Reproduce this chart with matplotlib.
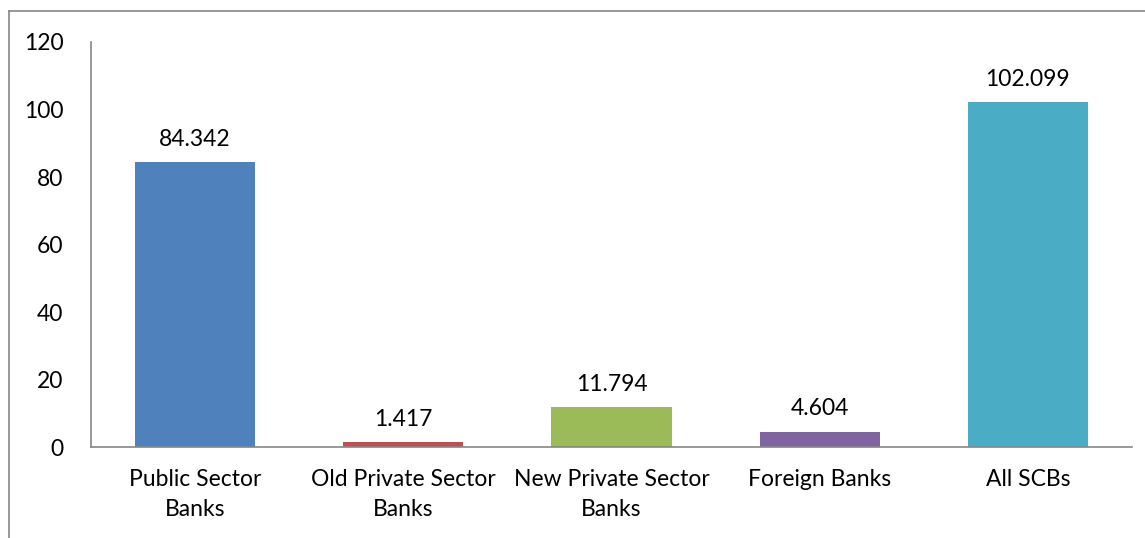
import matplotlib.pyplot as plt
from matplotlib.lines import Line2D

categories = ['Public Sector\nBanks', 'Old Private Sector\nBanks', 'New Private Sector\nBanks',
              'Foreign Banks', 'All SCBs']
values = [84.342, 1.417, 11.794, 4.604, 102.099]
labels = ['84.342', '1.417', '11.794', '4.604', '102.099']
colors = ['#4F81BD', '#C0504D', '#9BBB59', '#8064A2', '#4BACC6']

plt.rcParams['font.family'] = ['Lato', 'DejaVu Sans']
plt.rcParams['font.size'] = 16.5

fig = plt.figure(figsize=(11.45, 5.38), dpi=100)
ax = fig.add_axes([0.0795, 0.169, 0.9091, 0.753])

x = range(len(values))
bars = ax.bar(x, values, width=0.577, color=colors)
for b, lab in zip(bars, labels):
    ax.annotate(lab, (b.get_x() + b.get_width() / 2, b.get_height()),
                xytext=(0, 9), textcoords='offset points',
                ha='center', va='bottom', color='black')

ax.set_xlim(-0.5, 4.5)
ax.set_ylim(0, 120)
ax.set_yticks(range(0, 121, 20))
ax.set_xticks(list(x))
ax.set_xticklabels(categories, linespacing=1.5)
ax.tick_params(axis='both', length=0, colors='black')
ax.tick_params(axis='y', pad=20)
ax.tick_params(axis='x', pad=16)

for s in ['top', 'right']:
    ax.spines[s].set_visible(False)
for s in ['left', 'bottom']:
    ax.spines[s].set_color('#868686')
    ax.spines[s].set_linewidth(1.2)

# outer chart frame (top and left edges)
fig.add_artist(Line2D([0.0079, 1.0], [0.9796, 0.9796], color='#868686', lw=1.2))
fig.add_artist(Line2D([0.0079, 0.0079], [0.0, 0.9796], color='#868686', lw=1.2))

fig.savefig('out.png', dpi=100)
